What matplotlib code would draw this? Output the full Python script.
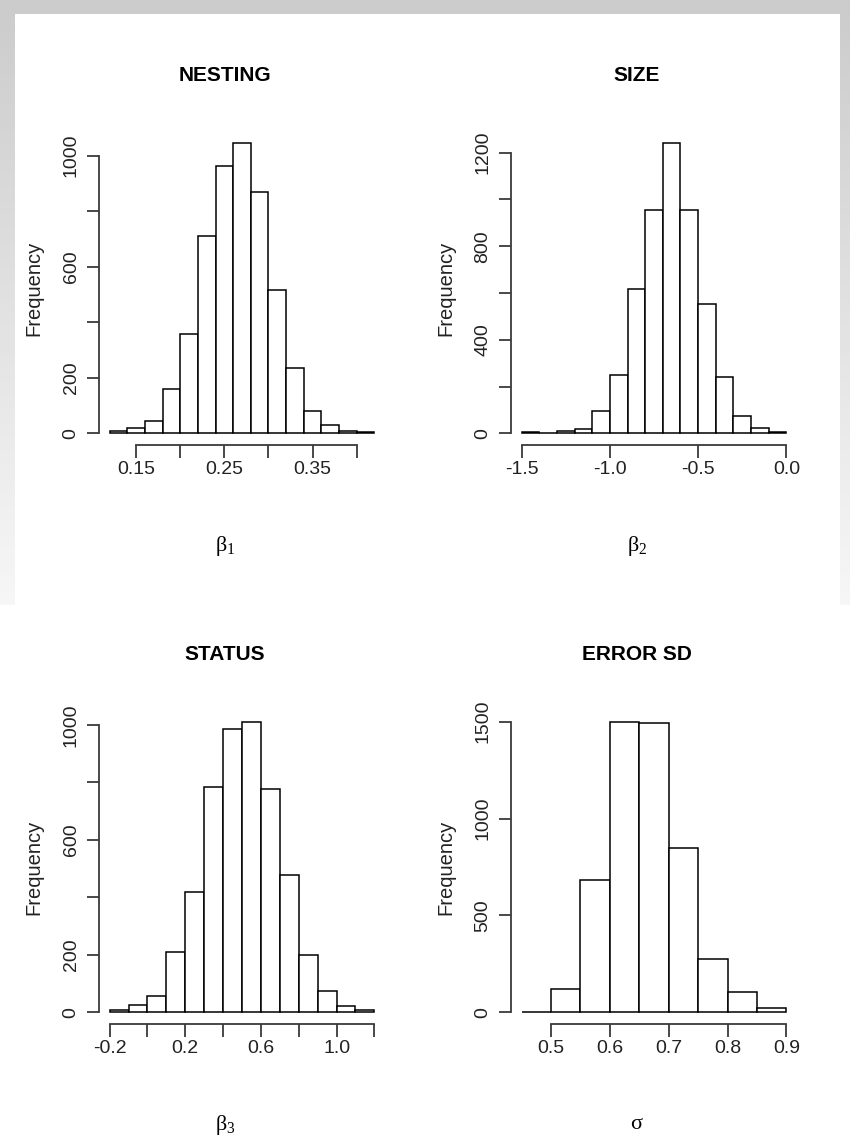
import numpy as np
import matplotlib
matplotlib.use('Agg')
import matplotlib.pyplot as plt

plt.rcParams['font.family'] = ['Liberation Sans', 'DejaVu Sans']
plt.rcParams['mathtext.fontset'] = 'custom'
plt.rcParams['mathtext.rm'] = 'Liberation Serif'
plt.rcParams['mathtext.it'] = 'Liberation Serif'

# histogram bins (edges) and counts
nesting_edges = [0.12, 0.14, 0.16, 0.18, 0.20, 0.22, 0.24, 0.26, 0.28, 0.30,
                 0.32, 0.34, 0.36, 0.38, 0.40, 0.42]
nesting_counts = [7, 18, 44, 158, 357, 709, 962, 1047, 871, 518, 236, 82, 30, 10, 4]

size_edges = [-1.5, -1.4, -1.3, -1.2, -1.1, -1.0, -0.9, -0.8, -0.7, -0.6,
              -0.5, -0.4, -0.3, -0.2, -0.1, 0.0]
size_counts = [5, 2, 10, 20, 94, 248, 616, 954, 1243, 954, 554, 241, 73, 23, 5]

status_edges = [-0.2, -0.1, 0.0, 0.1, 0.2, 0.3, 0.4, 0.5, 0.6, 0.7,
                0.8, 0.9, 1.0, 1.1, 1.2]
status_counts = [7, 24, 57, 209, 418, 785, 987, 1011, 776, 476, 199, 75, 21, 7]

sd_edges = [0.45, 0.50, 0.55, 0.60, 0.65, 0.70, 0.75, 0.80, 0.85, 0.90]
sd_counts = [4, 120, 682, 1500, 1491, 846, 274, 103, 23]

# tick positions and the labels R actually printed
nesting_xticks = [0.15, 0.20, 0.25, 0.30, 0.35, 0.40]
nesting_xlabels = ['0.15', '', '0.25', '', '0.35', '']
nesting_yticks = [0, 200, 400, 600, 800, 1000]
nesting_ylabels = ['0', '200', '', '600', '', '1000']

size_xticks = [-1.5, -1.0, -0.5, 0.0]
size_xlabels = ['-1.5', '-1.0', '-0.5', '0.0']
size_yticks = [0, 200, 400, 600, 800, 1000, 1200]
size_ylabels = ['0', '', '400', '', '800', '', '1200']

status_xticks = [-0.2, 0.0, 0.2, 0.4, 0.6, 0.8, 1.0, 1.2]
status_xlabels = ['-0.2', '', '0.2', '', '0.6', '', '1.0', '']
status_yticks = [0, 200, 400, 600, 800, 1000]
status_ylabels = ['0', '200', '', '600', '', '1000']

sd_xticks = [0.5, 0.6, 0.7, 0.8, 0.9]
sd_xlabels = ['0.5', '0.6', '0.7', '0.8', '0.9']
sd_yticks = [0, 500, 1000, 1500]
sd_ylabels = ['0', '500', '1000', '1500']

W, H = 850, 1139
fig = plt.figure(figsize=(W / 100, H / 100), dpi=100)
fig.patch.set_facecolor('white')

# slide-like grey frame behind the plots
bg = fig.add_axes([0, 0, 1, 1], zorder=-10)
bg.set_xlim(0, W)
bg.set_ylim(H, 0)
bg.axis('off')
grad = np.linspace(0.80, 0.965, 200).reshape(-1, 1)
bg.imshow(grad, cmap='gray', vmin=0, vmax=1, extent=(0, 15, 605, 14), aspect='auto')
bg.imshow(grad, cmap='gray', vmin=0, vmax=1, extent=(840, W, 605, 14), aspect='auto')
bg.add_patch(plt.Rectangle((0, 0), W, 14, color='#cccccc', lw=0))


def px_axes(x0, x1, y0, y1):
    return fig.add_axes([x0 / W, 1 - y1 / H, (x1 - x0) / W, (y1 - y0) / H])


def r_hist(ax, edges, counts, xticks, xlabels, yticks, ylabels, title, xlab):
    edges = np.array(edges)
    ax.bar(edges[:-1], counts, width=np.diff(edges), align='edge',
           facecolor='white', edgecolor='black', linewidth=1.1)
    span = edges[-1] - edges[0]
    ax.set_xlim(edges[0] - 0.04 * span, edges[-1] + 0.04 * span)
    top = max(counts)
    ax.set_ylim(-0.04 * top, 1.04 * top)
    for s in ['top', 'right']:
        ax.spines[s].set_visible(False)
    for s in ['left', 'bottom']:
        ax.spines[s].set_color('#3a3a3a')
        ax.spines[s].set_linewidth(1.3)
    ax.spines['bottom'].set_bounds(xticks[0], xticks[-1])
    ax.spines['left'].set_bounds(yticks[0], yticks[-1])
    ax.set_xticks(xticks)
    ax.set_xticklabels(xlabels)
    ax.set_yticks(yticks)
    ax.set_yticklabels(ylabels, rotation=90, va='center')
    ax.tick_params(axis='both', length=9, width=1.3, color='#3a3a3a',
                   labelsize=14, labelcolor='#222222')
    ax.tick_params(axis='x', pad=2.5)
    ax.tick_params(axis='y', pad=5)
    ax.set_facecolor('none')
    ax.set_title(title, fontsize=15, fontweight='bold', pad=36, x=0.44)
    ax.set_ylabel('Frequency', fontsize=14.5, labelpad=14, color='#222222')
    ax.set_xlabel(xlab, fontsize=16, labelpad=40, x=0.44)


ax1 = px_axes(99, 385, 131, 445)
r_hist(ax1, nesting_edges, nesting_counts, nesting_xticks, nesting_xlabels,
       nesting_yticks, nesting_ylabels, 'NESTING', r'$\beta_1$')

ax2 = px_axes(511, 797, 131, 445)
r_hist(ax2, size_edges, size_counts, size_xticks, size_xlabels,
       size_yticks, size_ylabels, 'SIZE', r'$\beta_2$')

ax3 = px_axes(99, 385, 710, 1024)
r_hist(ax3, status_edges, status_counts, status_xticks, status_xlabels,
       status_yticks, status_ylabels, 'STATUS', r'$\beta_3$')

ax4 = px_axes(511, 797, 710, 1024)
r_hist(ax4, sd_edges, sd_counts, sd_xticks, sd_xlabels,
       sd_yticks, sd_ylabels, 'ERROR SD', r'$\sigma$')

fig.savefig('out.png', dpi=100)
